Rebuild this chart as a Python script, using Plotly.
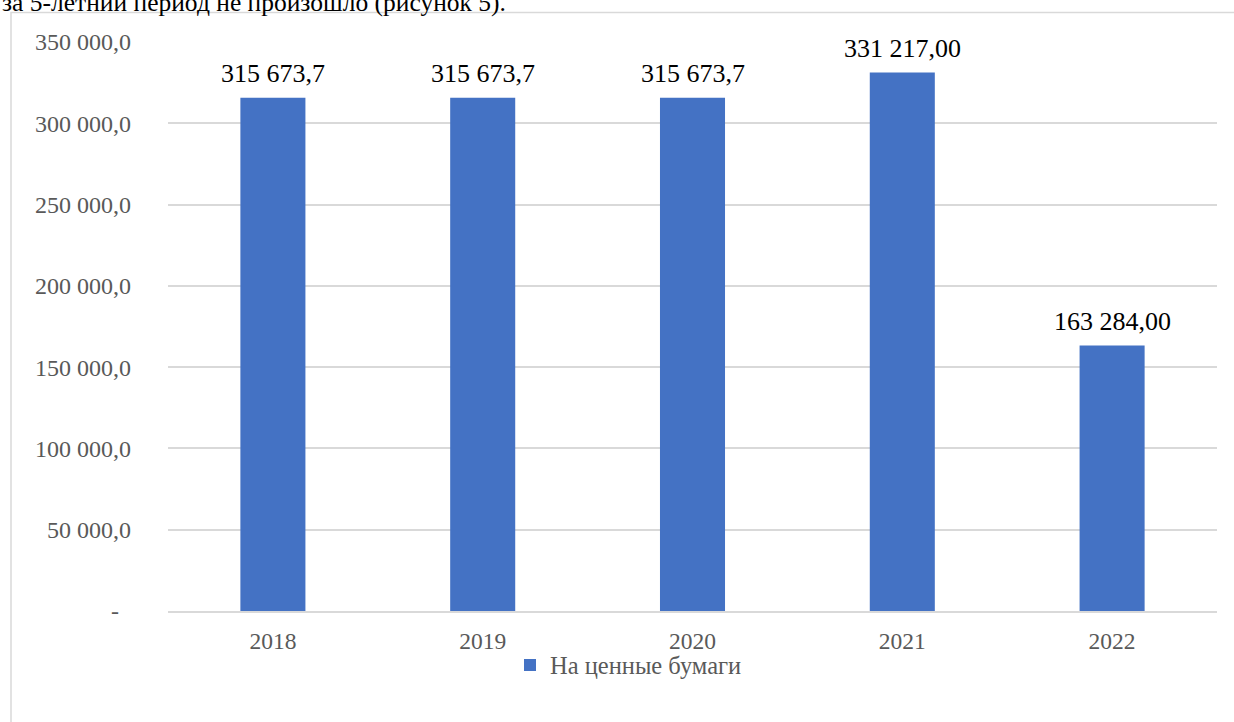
import plotly.graph_objects as go

years = ["2018", "2019", "2020", "2021", "2022"]
values = [315673.7, 315673.7, 315673.7, 331217.00, 163284.00]
value_labels = ["315 673,7", "315 673,7", "315 673,7", "331 217,00", "163 284,00"]
series_name = "На ценные бумаги"
y_tickvals = [0, 50000, 100000, 150000, 200000, 250000, 300000, 350000]
y_ticktext = ["-\u00a0\u00a0", "50 000,0", "100 000,0", "150 000,0", "200 000,0",
              "250 000,0", "300 000,0", "350 000,0"]
caption_text = "за 5-летний период не произошло (рисунок 5)."

FONT = "Liberation Serif, Times New Roman, serif"
W, H = 1234, 722
L, R, T, B = 168, 17, 42, 111
pw, ph = W - L - R, H - T - B

def px(x):
    return (x - L) / pw

def py(y):
    return (H - B - y) / ph

fig = go.Figure()
fig.add_trace(go.Bar(
    x=years, y=values, name=series_name,
    marker=dict(color="#4472C4", line=dict(width=0)),
    width=0.31, showlegend=True,
))

for i, (v, lab) in enumerate(zip(values, value_labels)):
    fig.add_annotation(x=i, y=v, text=lab, showarrow=False, yanchor="bottom",
                       yshift=8, font=dict(family=FONT, size=26, color="#000000"))

fig.add_annotation(xref="paper", yref="paper", x=px(0), y=py(19), xanchor="left",
                   yanchor="bottom", text=caption_text, showarrow=False,
                   font=dict(family=FONT, size=25.5, color="#000000"))

fig.add_shape(type="rect", xref="paper", yref="paper",
              x0=px(11), x1=px(1260), y0=py(760), y1=py(12.5),
              line=dict(color="#D9D9D9", width=1.5), fillcolor="rgba(0,0,0,0)", layer="below")

fig.update_layout(
    width=W, height=H,
    margin=dict(l=L, r=R, t=T, b=B, pad=0),
    paper_bgcolor="white", plot_bgcolor="white",
    font=dict(family=FONT, size=24, color="#595959"),
    legend=dict(orientation="h", x=px(510), y=py(665), xanchor="left", yanchor="middle",
                font=dict(family=FONT, size=24.5, color="#595959"),
                itemwidth=30, bgcolor="rgba(0,0,0,0)"),
    bargap=0.69,
)
fig.update_xaxes(type="category", range=[-0.5, 4.5], showgrid=False, showline=True,
                 linecolor="#D9D9D9", linewidth=1.5, ticks="", ticklabelstandoff=8,
                 tickfont=dict(family=FONT, size=23.5, color="#595959"))
fig.update_yaxes(range=[0, 350000], tickvals=y_tickvals, ticktext=y_ticktext,
                 showgrid=True, gridcolor="#D9D9D9", gridwidth=1.5, zeroline=False,
                 showline=False, ticks="", ticklabelstandoff=36,
                 tickfont=dict(family=FONT, size=24, color="#595959"))

fig.write_html("out.html", config={"displayModeBar": False},
               post_script="document.body.style.margin='0';document.body.style.padding='0';")
